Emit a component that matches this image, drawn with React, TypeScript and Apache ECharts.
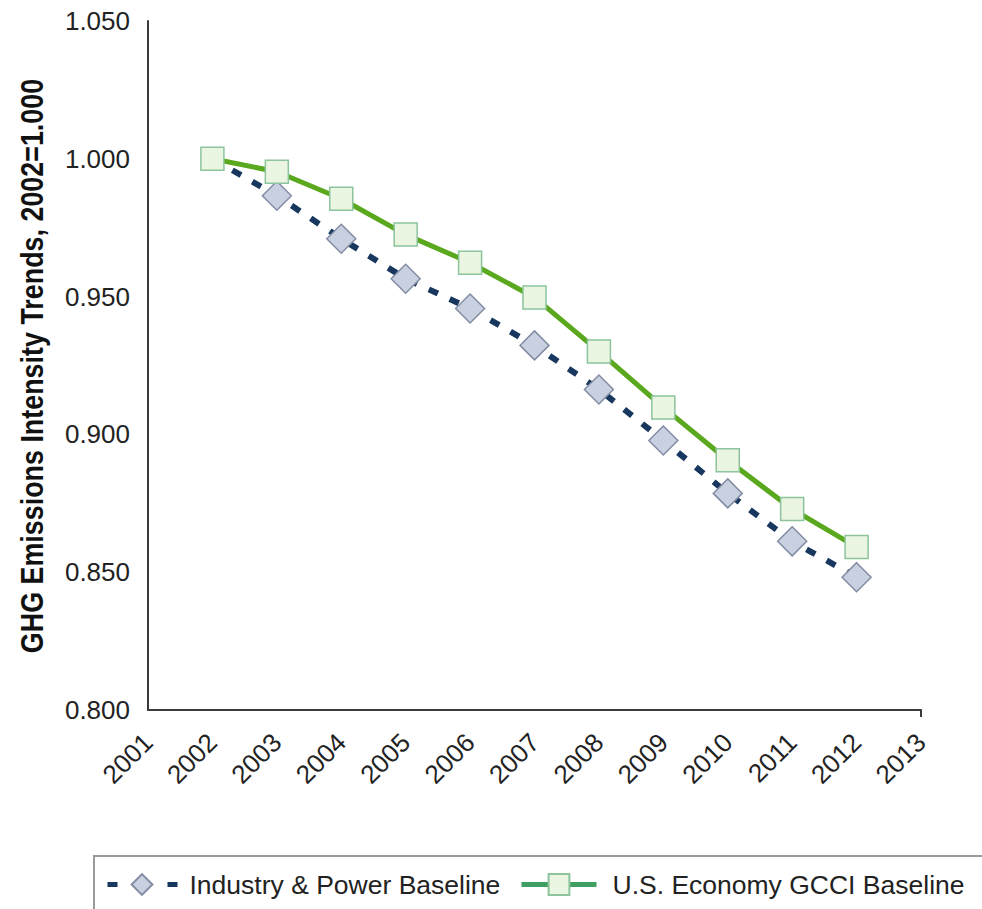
import React, { useEffect, useRef } from "react";
import * as echarts from "echarts";

const years = [2002, 2003, 2004, 2005, 2006, 2007, 2008, 2009, 2010, 2011, 2012];
const industryPower = [1.0, 0.9866, 0.971, 0.9565, 0.9457, 0.9323, 0.9163, 0.8978, 0.8786, 0.8612, 0.8482];
const usEconomy = [1.0, 0.9953, 0.9855, 0.9725, 0.9623, 0.9497, 0.9301, 0.9098, 0.8906, 0.8729, 0.8591];
const yTickLabels = ["0.800", "0.850", "0.900", "0.950", "1.000", "1.050"];
const seriesNames = ["Industry & Power Baseline", "U.S. Economy GCCI Baseline"];
const yTitle = "GHG Emissions Intensity Trends, 2002=1.000";

const FONT = "'Liberation Sans', Arial, sans-serif";

export default function App() {
  const ref = useRef<HTMLDivElement>(null);
  useEffect(() => {
    document.body.style.margin = "0";
    if (!ref.current) return;
    const chart = echarts.init(ref.current, undefined, { renderer: "svg" });
    const yMin = Number(yTickLabels[0]);
    const yMax = Number(yTickLabels[yTickLabels.length - 1]);
    const legendText = { fontSize: 26.5, fontFamily: FONT, color: "#222" };
    chart.setOption({
      animation: false,
      backgroundColor: "#ffffff",
      grid: { left: 148, top: 21, right: 61, bottom: 199, containLabel: false },
      xAxis: {
        type: "value",
        min: years[0] - 1,
        max: years[years.length - 1] + 1,
        interval: 1,
        splitLine: { show: false },
        axisLine: { show: true, onZero: false, lineStyle: { color: "#3a3a3a", width: 2 } },
        axisTick: { show: true, customValues: [years[years.length - 1] + 1], length: 7, lineStyle: { color: "#3a3a3a", width: 2 } },
        axisLabel: {
          rotate: 45,
          margin: 28,
          fontSize: 26,
          fontFamily: FONT,
          color: "#222",
          formatter: (v: number) => String(v),
        },
      },
      yAxis: {
        type: "value",
        min: yMin,
        max: yMax,
        interval: 0.05,
        splitLine: { show: false },
        axisLine: { show: true, lineStyle: { color: "#3a3a3a", width: 2 } },
        axisTick: { show: false },
        axisLabel: {
          margin: 18,
          fontSize: 26,
          fontFamily: FONT,
          color: "#222",
          formatter: (v: number) => v.toFixed(3),
        },
      },
      legend: [
        {
          left: 97,
          top: 866,
          itemWidth: 75,
          itemHeight: 26,
          lineStyle: { width: "inherit" },
          textStyle: { ...legendText, padding: [0, 0, 0, 5] },
          data: [
            {
              name: seriesNames[0],
              lineStyle: { color: "#17375e", width: 5, type: [10, 50], dashOffset: -3 },
            },
          ],
        },
        {
          left: 514,
          top: 866,
          itemWidth: 75,
          itemHeight: 26,
          lineStyle: { width: "inherit" },
          textStyle: { ...legendText, padding: [0, 0, 0, 11] },
          data: [
            {
              name: seriesNames[1],
              lineStyle: { color: "#3f9f62", width: 5 },
            },
          ],
        },
      ],
      graphic: [
        {
          type: "rect",
          shape: { x: 94, y: 856, width: 1000, height: 120 },
          style: { fill: "none", stroke: "#9a9a9a", lineWidth: 2 },
          silent: true,
        },
        {
          type: "text",
          x: 32,
          y: 366,
          rotation: Math.PI / 2,
          scaleX: 0.84,
          style: {
            text: yTitle,
            font: `bold 32px ${FONT}`,
            fill: "#111",
            textAlign: "center",
            textVerticalAlign: "middle",
          },
          silent: true,
        },
      ],
      series: [
        {
          name: seriesNames[0],
          type: "line",
          data: years.map((y, i) =>
            i === 0 ? { value: [y, industryPower[i]], symbol: "none" } : [y, industryPower[i]]
          ),
          symbol: "diamond",
          symbolSize: 29,
          lineStyle: { color: "#17375e", width: 6, type: [10, 13] },
          itemStyle: { color: "#c9d1e1", borderColor: "#838ca3", borderWidth: 1.5 },
          z: 2,
        },
        {
          name: seriesNames[1],
          type: "line",
          data: years.map((y, i) => [y, usEconomy[i]]),
          symbol: "rect",
          symbolSize: 23,
          lineStyle: { color: "#5aa81e", width: 5 },
          itemStyle: { color: "#eaf5e2", borderColor: "#8cc49c", borderWidth: 1.5 },
          z: 3,
        },
      ],
    });
    return () => chart.dispose();
  }, []);
  return <div ref={ref} style={{ width: 982, height: 909 }} />;
}
